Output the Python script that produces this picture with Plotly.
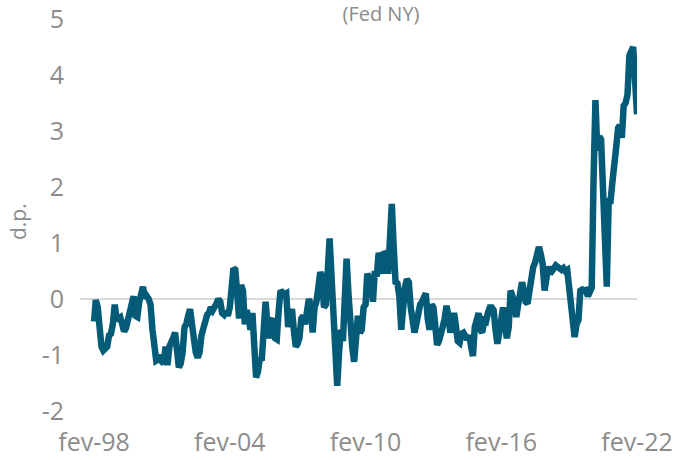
import pandas as pd
import plotly.graph_objects as go

# Global Supply Chain Pressure Index (Fed NY), monthly, fev-98 .. fev-22
start_month = "1998-02-01"
gscpi = [
    -0.40, -0.02, -0.15, -0.55, -0.85, -0.92, -0.90, -0.85, -0.65, -0.62,
    -0.45, -0.10, -0.38, -0.35, -0.33, -0.45, -0.58, -0.52, -0.35, -0.20,
    -0.05, 0.05, -0.30, -0.32, -0.05, 0.05, 0.22, 0.02, 0.05, 0.00,
    -0.10, -0.55, -0.95, -1.10, -1.08, -1.00, -1.12, -1.15, -0.85, -1.18,
    -0.85, -0.80, -0.70, -0.60, -0.95, -1.22, -1.15, -0.95, -0.50, -0.45,
    -0.30, -0.18, -0.45, -0.75, -0.95, -1.05, -0.95, -0.65, -0.48, -0.40,
    -0.28, -0.25, -0.15, -0.20, -0.10, -0.08, 0.00, -0.05, -0.25, -0.28,
    -0.22, -0.30, -0.15, 0.15, 0.55, 0.52, 0.10, -0.35, 0.25, 0.15,
    -0.45, -0.20, -0.35, -0.55, -0.25, -0.90, -1.40, -1.30, -1.05, -1.10,
    -0.55, -0.05, -0.45, -0.70, -0.40, -0.35, -0.70, -0.72, -0.20, 0.15,
    0.12, 0.08, 0.10, -0.50, -0.30, -0.18, -0.55, -0.85, -0.80, -0.70,
    -0.35, -0.30, -0.45, -0.20, 0.00, -0.10, -0.60, -0.15, -0.05, 0.20,
    0.48, 0.40, -0.15, -0.10, 0.50, 1.08, 0.40, -0.40, -1.05, -1.55,
    -0.95, -0.55, -0.75, -0.20, 0.72, 0.10, -0.55, -0.85, -1.12, -0.70,
    -0.30, -0.60, -0.55, -0.15, -0.10, 0.45, 0.35, 0.30, -0.05, 0.50,
    0.40, 0.82, 0.75, 0.45, 0.85, 0.80, 0.45, 1.25, 1.70, 0.95,
    0.30, 0.28, 0.05, -0.55, 0.10, 0.22, 0.35, 0.30, -0.15, -0.32,
    -0.60, -0.45, -0.15, -0.10, -0.05, 0.05, 0.10, -0.35, -0.55, -0.10,
    -0.15, -0.45, -0.82, -0.75, -0.55, -0.50, -0.35, -0.12, -0.30, -0.60,
    -0.40, -0.25, -0.50, -0.75, -0.78, -0.62, -0.60, -0.70, -0.72, -0.65,
    -0.90, -1.02, -0.50, -0.35, -0.25, -0.55, -0.60, -0.38, -0.40, -0.25,
    -0.15, -0.15, -0.20, -0.55, -0.80, -0.60, -0.35, -0.15, -0.45, -0.70,
    -0.50, 0.15, 0.05, -0.20, -0.32, -0.10, 0.20, 0.30, 0.15, -0.05,
    -0.08, 0.20, 0.50, 0.57, 0.65, 0.85, 0.93, 0.80, 0.62, 0.15,
    0.55, 0.58, 0.45, 0.48, 0.55, 0.60, 0.58, 0.55, 0.52, 0.55,
    0.50, 0.52, 0.15, 0.05, -0.30, -0.68, -0.45, -0.38, 0.15, 0.17,
    0.15, 0.16, 0.05, 0.10, 0.20, 2.10, 3.55, 2.65, 2.90, 2.85,
    1.80, 0.70, 0.22, 1.75, 1.75, 2.10, 2.35, 2.70, 3.05, 3.10,
    2.88, 3.45, 3.50, 3.65, 4.35, 4.48, 4.50, 3.90, 3.30,
]
tick_dates = ["1998-02-01", "2004-02-01", "2010-02-01", "2016-02-01", "2022-02-01"]
tick_labels = ["fev-98", "fev-04", "fev-10", "fev-16", "fev-22"]
y_ticks = [-2, -1, 0, 1, 2, 3, 4, 5]
y_tick_labels = ["-2", "-1", "0", "1", "2", "3", "4", "5"]

dates = pd.date_range(start_month, periods=len(gscpi), freq="MS")

GRAY = "#8c8c8c"
FONT = "Open Sans"

fig = go.Figure()
fig.add_trace(go.Scatter(
    x=dates, y=gscpi, mode="lines",
    line=dict(color="#035b78", width=6.5),
    hoverinfo="x+y",
))

fig.update_layout(
    width=679, height=460,
    margin=dict(l=80, r=42, t=19, b=49, autoexpand=False),
    paper_bgcolor="white", plot_bgcolor="white",
    showlegend=False,
    font=dict(family=FONT, color=GRAY, size=24),
    title=dict(text="(Fed NY)", x=381 / 679, xanchor="center",
               y=1 - 14 / 460, yanchor="middle", automargin=False,
               font=dict(family=FONT, size=20, color=GRAY)),
)
fig.update_xaxes(
    range=["1997-06-19", "2022-02-01"],
    tickvals=tick_dates, ticktext=tick_labels,
    showgrid=False, zeroline=False, showline=False, automargin=False,
    ticks="outside", ticklen=9, tickcolor="rgba(0,0,0,0)",
    tickfont=dict(family=FONT, size=25, color=GRAY),
)
fig.update_yaxes(
    range=[-2, 5], tickvals=y_ticks, ticktext=y_tick_labels,
    showgrid=False, zeroline=True, zerolinecolor="#d9d9d9", zerolinewidth=2,
    showline=False, automargin=False,
    ticks="outside", ticklen=10, tickcolor="rgba(0,0,0,0)",
    tickfont=dict(family=FONT, size=25, color=GRAY),
)
fig.add_annotation(
    text="d.p.", textangle=-90, showarrow=False,
    xref="paper", yref="paper",
    x=(18 - 80) / 557, y=(411 - 222) / 392,
    xanchor="center", yanchor="middle",
    font=dict(family=FONT, size=21, color=GRAY),
)

fig.write_html(
    "out.html",
    config={"displayModeBar": False},
    post_script="document.body.style.margin='0';document.body.style.overflow='hidden';",
)
